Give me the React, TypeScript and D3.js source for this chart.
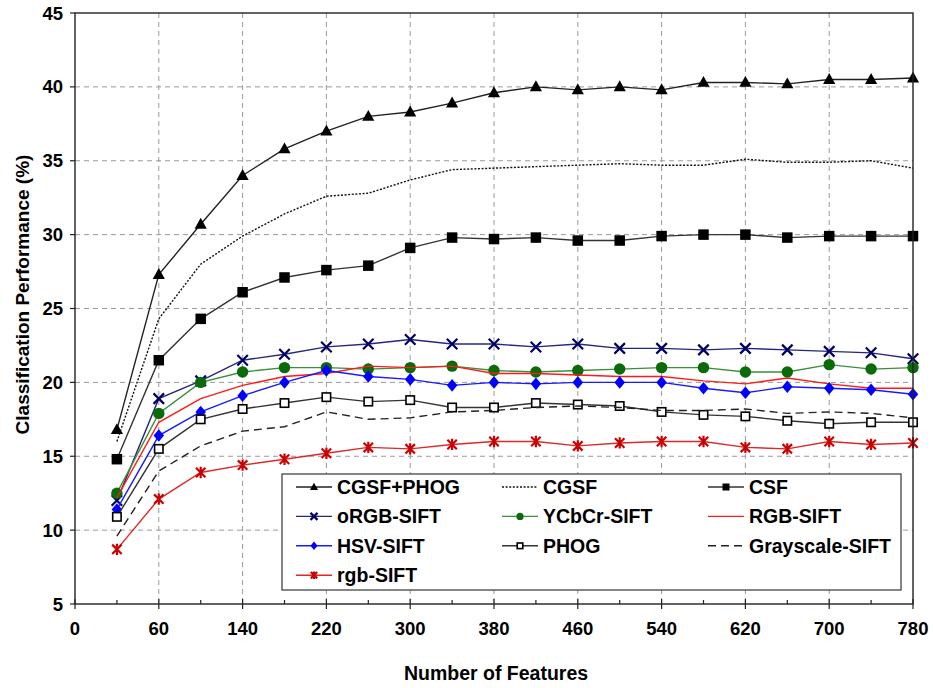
import React from "react";
import * as d3 from "d3";

// Feature counts sampled along the x axis (category-style: one slot every 40 features)
const featureCounts = [20, 60, 100, 140, 180, 220, 260, 300, 340, 380, 420, 460, 500, 540, 580, 620, 660, 700, 740, 780];
// Labelled slots on the x axis; the first label sits on the axis origin, half a step before the first sample
const xTickLabels = [0, 60, 140, 220, 300, 380, 460, 540, 620, 700, 780];
const yTickValues = [5, 10, 15, 20, 25, 30, 35, 40, 45];

// Classification performance (%) per descriptor
const cgsfPhog = [16.8, 27.3, 30.7, 34.0, 35.8, 37.0, 38.0, 38.3, 38.9, 39.6, 40.0, 39.8, 40.0, 39.8, 40.3, 40.3, 40.2, 40.5, 40.5, 40.6];
const cgsf = [16.0, 24.3, 28.0, 29.9, 31.4, 32.6, 32.8, 33.7, 34.4, 34.5, 34.6, 34.7, 34.8, 34.7, 34.7, 35.1, 34.9, 34.9, 35.0, 34.5];
const csf = [14.8, 21.5, 24.3, 26.1, 27.1, 27.6, 27.9, 29.1, 29.8, 29.7, 29.8, 29.6, 29.6, 29.9, 30.0, 30.0, 29.8, 29.9, 29.9, 29.9];
const orgbSift = [12.0, 18.9, 20.1, 21.5, 21.9, 22.4, 22.6, 22.9, 22.6, 22.6, 22.4, 22.6, 22.3, 22.3, 22.2, 22.3, 22.2, 22.1, 22.0, 21.6];
const ycbcrSift = [12.5, 17.9, 20.0, 20.7, 21.0, 21.0, 20.9, 21.0, 21.1, 20.8, 20.7, 20.8, 20.9, 21.0, 21.0, 20.7, 20.7, 21.2, 20.9, 21.0];
const rgbSiftUpper = [12.2, 17.3, 18.9, 19.8, 20.4, 20.6, 21.1, 21.0, 21.1, 20.6, 20.6, 20.5, 20.4, 20.4, 20.1, 19.9, 20.3, 19.9, 19.6, 19.6];
const hsvSift = [11.4, 16.4, 18.0, 19.1, 20.0, 20.8, 20.4, 20.2, 19.8, 20.0, 19.9, 20.0, 20.0, 20.0, 19.6, 19.3, 19.7, 19.6, 19.5, 19.2];
const phog = [10.9, 15.5, 17.5, 18.2, 18.6, 19.0, 18.7, 18.8, 18.3, 18.3, 18.6, 18.5, 18.4, 18.0, 17.8, 17.7, 17.4, 17.2, 17.3, 17.3];
const grayscaleSift = [9.6, 14.0, 15.7, 16.7, 17.0, 18.0, 17.5, 17.6, 18.0, 18.1, 18.3, 18.4, 18.3, 18.1, 18.1, 18.2, 17.9, 18.0, 17.9, 17.6];
const rgbSiftLower = [8.7, 12.1, 13.9, 14.4, 14.8, 15.2, 15.6, 15.5, 15.8, 16.0, 16.0, 15.7, 15.9, 16.0, 16.0, 15.6, 15.5, 16.0, 15.8, 15.9];

type Shape = "triangle" | "square" | "cross" | "circle" | "diamond" | "openSquare" | "asterisk" | "none";

interface Series {
  name: string;
  values: number[];
  line: string;
  marker: string;
  shape: Shape;
  dash?: string;
}

const series: Series[] = [
  { name: "CGSF+PHOG", values: cgsfPhog, line: "#222", marker: "#000", shape: "triangle" },
  { name: "CGSF", values: cgsf, line: "#111", marker: "#000", shape: "none", dash: "2,1.6" },
  { name: "CSF", values: csf, line: "#333", marker: "#000", shape: "square" },
  { name: "oRGB-SIFT", values: orgbSift, line: "#26267f", marker: "#000066", shape: "cross" },
  { name: "YCbCr-SIFT", values: ycbcrSift, line: "#3a903a", marker: "#0b6b0b", shape: "circle" },
  { name: "RGB-SIFT", values: rgbSiftUpper, line: "#ff1a1a", marker: "#ff1a1a", shape: "none" },
  { name: "HSV-SIFT", values: hsvSift, line: "#1a1aff", marker: "#0000ff", shape: "diamond" },
  { name: "PHOG", values: phog, line: "#333", marker: "#000", shape: "openSquare" },
  { name: "Grayscale-SIFT", values: grayscaleSift, line: "#222", marker: "#000", shape: "none", dash: "8,5" },
  { name: "rgb-SIFT", values: rgbSiftLower, line: "#dd2828", marker: "#cc0000", shape: "asterisk" },
];

const W = 933;
const H = 688;
const plot = { left: 75, right: 913, top: 13, bottom: 604 };
const font = "'Liberation Sans', Arial, Helvetica, sans-serif";

const step = featureCounts[1] - featureCounts[0];
const xOrigin = featureCounts[0] - step;
const x = d3.scaleLinear().domain([xOrigin, featureCounts[featureCounts.length - 1]]).range([plot.left, plot.right]);
const y = d3.scaleLinear().domain([5, 45]).range([plot.bottom, plot.top]);

// label value -> slot on the axis (the "0" label marks the origin slot)
const labelSlot = (v: number, i: number) => (i === 0 ? xOrigin : v);
const minorSlots = featureCounts.filter((_, i) => i % 2 === 0);

function Marker({ shape, cx, cy, size, color }: { shape: Shape; cx: number; cy: number; size: number; color: string }) {
  const s = size;
  switch (shape) {
    case "triangle":
      return <path d={`M${cx},${cy - s * 0.62}L${cx + s * 0.58},${cy + s * 0.42}L${cx - s * 0.58},${cy + s * 0.42}Z`} fill={color} />;
    case "square":
      return <rect x={cx - s / 2} y={cy - s / 2} width={s} height={s} fill={color} />;
    case "openSquare":
      return <rect x={cx - s * 0.4} y={cy - s * 0.4} width={s * 0.8} height={s * 0.8} fill="#fff" stroke={color} strokeWidth={1.6} />;
    case "circle":
      return <circle cx={cx} cy={cy} r={s * 0.52} fill={color} />;
    case "diamond":
      return <path d={`M${cx},${cy - s * 0.6}L${cx + s * 0.5},${cy}L${cx},${cy + s * 0.6}L${cx - s * 0.5},${cy}Z`} fill={color} />;
    case "cross": {
      const h = s * 0.5;
      return (
        <path d={`M${cx - h},${cy - h}L${cx + h},${cy + h}M${cx - h},${cy + h}L${cx + h},${cy - h}`} stroke={color} strokeWidth={2.2} fill="none" />
      );
    }
    case "asterisk": {
      const h = s * 0.45;
      return (
        <path
          d={`M${cx - h},${cy - h}L${cx + h},${cy + h}M${cx - h},${cy + h}L${cx + h},${cy - h}M${cx},${cy - h * 1.2}L${cx},${cy + h * 1.2}`}
          stroke={color}
          strokeWidth={2.2}
          fill="none"
        />
      );
    }
    default:
      return null;
  }
}

const lineGen = d3
  .line<number>()
  .x((_, i) => x(featureCounts[i]))
  .y((d) => y(d));

export default function App() {
  const legendBox = { x: 282, y: 474, w: 619, h: 116 };
  const legendCols = [296, 502, 708];
  const legendRow0 = 487;
  const legendRowGap = 29.4;
  const legendLineLen = 36;

  return (
    <svg width={W} height={H} style={{ position: "absolute", left: 0, top: 0, background: "#fff" }} fontFamily={font}>
      <rect x={0} y={0} width={W} height={H} fill="#fff" />

      {/* grid */}
      <g stroke="#9a9a9a" strokeWidth={1} strokeDasharray="5,4">
        {yTickValues.slice(1, -1).map((v) => (
          <line key={`gy${v}`} x1={plot.left} x2={plot.right} y1={y(v)} y2={y(v)} />
        ))}
        {xTickLabels.slice(1, -1).map((v, i) => (
          <line key={`gx${v}`} x1={x(labelSlot(v, i + 1))} x2={x(labelSlot(v, i + 1))} y1={plot.top} y2={plot.bottom} />
        ))}
      </g>

      {/* series */}
      {series.map((s) => (
        <g key={s.name}>
          <path d={lineGen(s.values) || ""} fill="none" stroke={s.line} strokeWidth={1.4} strokeDasharray={s.dash} />
          {s.shape !== "none" &&
            s.values.map((v, i) => (
              <Marker key={i} shape={s.shape} cx={x(featureCounts[i])} cy={y(v)} size={s.shape === "circle" ? 11 : 10.5} color={s.marker} />
            ))}
        </g>
      ))}

      {/* frame */}
      <rect x={plot.left} y={plot.top} width={plot.right - plot.left} height={plot.bottom - plot.top} fill="none" stroke="#222" strokeWidth={1.4} />

      {/* axis ticks and labels */}
      <g stroke="#222" strokeWidth={1.2}>
        {xTickLabels.map((v, i) => (
          <line key={`tx${v}`} x1={x(labelSlot(v, i))} x2={x(labelSlot(v, i))} y1={plot.bottom - 5} y2={plot.bottom + 5} />
        ))}
        {minorSlots.map((v) => (
          <line key={`mx${v}`} x1={x(v)} x2={x(v)} y1={plot.bottom - 4} y2={plot.bottom} />
        ))}
        {yTickValues.map((v) => (
          <line key={`ty${v}`} x1={plot.left - 5} x2={plot.left} y1={y(v)} y2={y(v)} />
        ))}
      </g>
      <g fontSize={18.5} fontWeight="bold" fill="#000">
        {xTickLabels.map((v, i) => (
          <text key={`lx${v}`} x={x(labelSlot(v, i))} y={635} textAnchor="middle">
            {v}
          </text>
        ))}
        {yTickValues.map((v) => (
          <text key={`ly${v}`} x={63} y={y(v)} textAnchor="end" dominantBaseline="central">
            {v}
          </text>
        ))}
      </g>

      {/* axis titles */}
      <text x={496} y={680} textAnchor="middle" fontSize={19.5} fontWeight="bold" fill="#000">
        Number of Features
      </text>
      <text
        transform={`translate(22,${(plot.top + plot.bottom) / 2 - 14}) rotate(-90)`}
        textAnchor="middle"
        dominantBaseline="central"
        fontSize={19}
        fontWeight="bold"
        fill="#000"
      >
        Classification Performance (%)
      </text>

      {/* legend */}
      <rect x={legendBox.x} y={legendBox.y} width={legendBox.w} height={legendBox.h} fill="#fff" stroke="#444" strokeWidth={1.3} />
      {series.map((s, i) => {
        const col = i % 3;
        const row = Math.floor(i / 3);
        const lx = legendCols[col];
        const ly = legendRow0 + row * legendRowGap;
        return (
          <g key={`lg${s.name}`}>
            <line x1={lx} x2={lx + legendLineLen} y1={ly} y2={ly} stroke={s.line} strokeWidth={1.4} strokeDasharray={s.dash} />
            {s.shape !== "none" && <Marker shape={s.shape} cx={lx + legendLineLen / 2} cy={ly} size={7} color={s.marker} />}
            <text x={lx + legendLineLen + 5} y={ly} dominantBaseline="central" fontSize={19.5} fontWeight="bold" fill="#000">
              {s.name}
            </text>
          </g>
        );
      })}
    </svg>
  );
}
